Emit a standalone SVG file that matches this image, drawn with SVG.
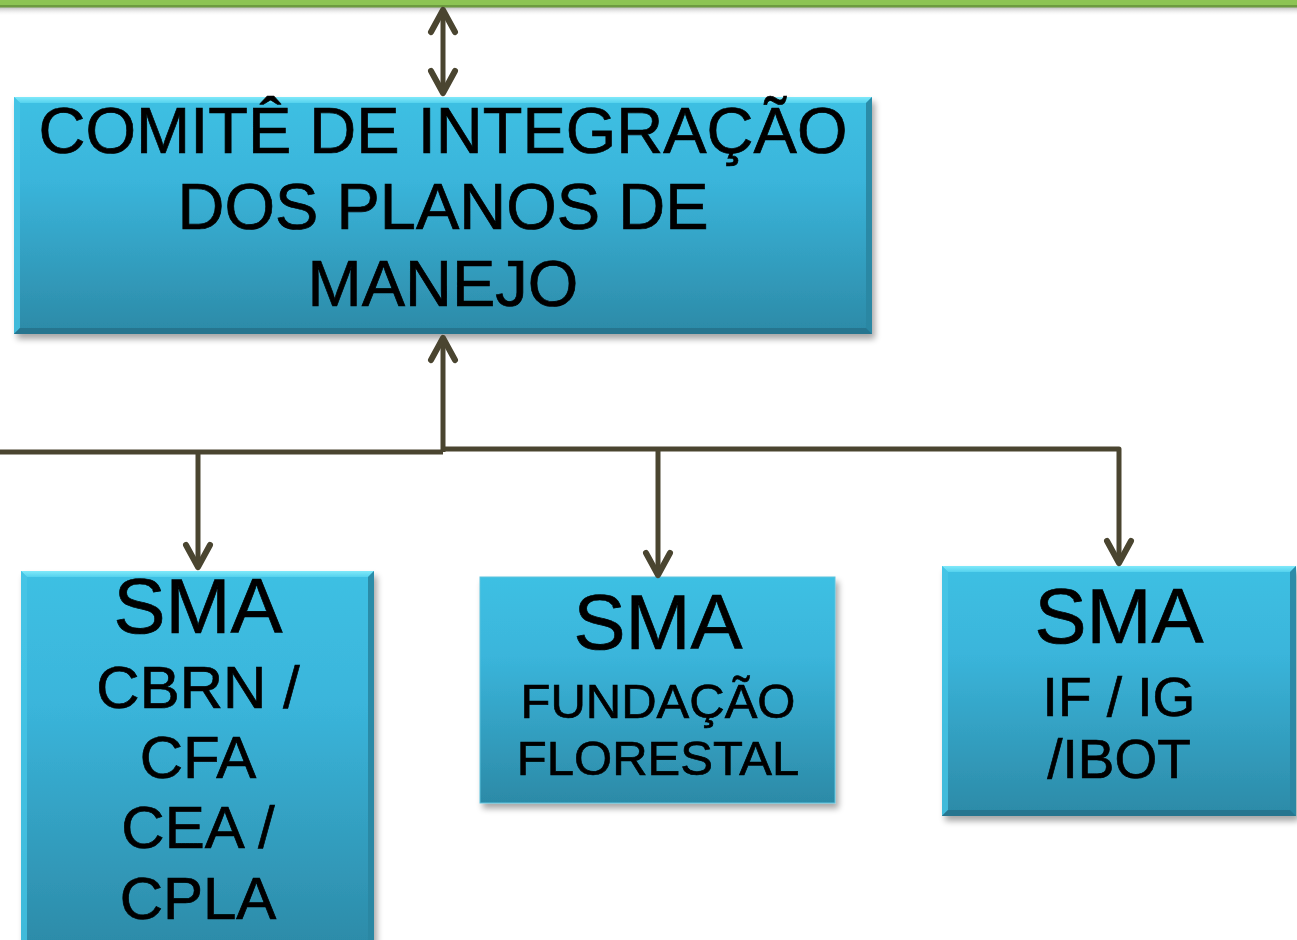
<svg xmlns="http://www.w3.org/2000/svg" width="1297" height="940" viewBox="0 0 1297 940">
<defs>
<linearGradient id="boxg" x1="0" y1="0" x2="0" y2="1">
<stop offset="0" stop-color="#3ec0e3"/>
<stop offset="0.35" stop-color="#3ab5db"/>
<stop offset="1" stop-color="#2c8aa7"/>
</linearGradient>
<linearGradient id="shadeTop" x1="0" y1="0" x2="0" y2="1">
<stop offset="0" stop-color="#7fe9fa"/>
<stop offset="1" stop-color="#55d2ee"/>
</linearGradient>
<linearGradient id="greenShadow" x1="0" y1="0" x2="0" y2="1">
<stop offset="0" stop-color="#9a9a9a" stop-opacity="0.7"/>
<stop offset="1" stop-color="#ffffff" stop-opacity="0"/>
</linearGradient>
<filter id="sh" x="-5%" y="-5%" width="115%" height="120%">
<feGaussianBlur in="SourceAlpha" stdDeviation="3"/>
<feOffset dx="3" dy="5" result="b"/>
<feComponentTransfer><feFuncA type="linear" slope="0.35"/></feComponentTransfer>
<feMerge><feMergeNode/><feMergeNode in="SourceGraphic"/></feMerge>
</filter>
<marker id="ah" viewBox="-28 -16 34 32" refX="0" refY="0" markerWidth="34" markerHeight="32" markerUnits="userSpaceOnUse" orient="auto-start-reverse">
<path d="M-22,-12 L0,0 L-22,12" fill="none" stroke="#4a4530" stroke-width="6" stroke-linecap="round" stroke-linejoin="round"/>
</marker>
</defs>
<style>
.box{fill:url(#boxg);}
.bt{fill:url(#shadeTop);}
.bl{fill:#46c6e6;opacity:0.8;}
.br{fill:#2a86a2;opacity:0.9;}
.bb{fill:#25758f;}
.t{font-family:"Liberation Sans",Arial,sans-serif;fill:#000;stroke:#000;stroke-width:0.7;text-anchor:middle;}
.conn{fill:none;stroke:#4a4530;stroke-width:5;stroke-linejoin:round;}
</style>
<rect x="0" y="0" width="1297" height="940" fill="#ffffff"/>
<g id="topbar">
<rect x="0" y="7" width="1297" height="9" fill="url(#greenShadow)"/>
<rect x="0" y="0" width="1297" height="6" fill="#8cc454"/>
<rect x="0" y="5" width="1297" height="2.5" fill="#6c9b40"/>
</g>
<g id="comite" filter="url(#sh)">
<rect class="box" x="14" y="97" width="858" height="237"/>
<polygon class="bt" points="14,97 872,97 866,103 20,103"/>
<polygon class="bl" points="14,97 20,103 20,328 14,334"/>
<polygon class="br" points="872,97 872,334 866,328 866,103"/>
<polygon class="bb" points="14,334 20,328 866,328 872,334"/>
<text class="t" font-size="65" x="443" y="153">COMITÊ DE INTEGRAÇÃO</text>
<text class="t" font-size="65" x="443" y="229">DOS PLANOS DE</text>
<text class="t" font-size="65" x="443" y="306">MANEJO</text>
</g>
<g id="sma-cbrn" filter="url(#sh)">
<rect class="box" x="21" y="571" width="353" height="380"/>
<polygon class="bt" points="21,571 374,571 368,577 27,577"/>
<polygon class="bl" points="21,571 27,577 27,951 21,951"/>
<polygon class="br" points="374,571 374,951 368,951 368,577"/>
<text class="t" font-size="78" x="198" y="633">SMA</text>
<text class="t" font-size="60" x="198" y="708">CBRN /</text>
<text class="t" font-size="60" x="198" y="778">CFA</text>
<text class="t" font-size="60" x="198" y="848">CEA /</text>
<text class="t" font-size="60" x="198" y="919">CPLA</text>
</g>
<g id="sma-fundacao" filter="url(#sh)">
<rect class="box" x="480" y="577" width="355" height="226" stroke="#5cc4de" stroke-width="1"/>
<text class="t" font-size="78" x="658" y="649">SMA</text>
<text class="t" font-size="49" x="658" y="718">FUNDAÇÃO</text>
<text class="t" font-size="49" x="658" y="775">FLORESTAL</text>
</g>
<g id="sma-if" filter="url(#sh)">
<rect class="box" x="942" y="566" width="354" height="250"/>
<polygon class="bt" points="942,566 1296,566 1290,572 948,572"/>
<polygon class="bl" points="942,566 948,572 948,810 942,816"/>
<polygon class="br" points="1296,566 1296,816 1290,810 1290,572"/>
<polygon class="bb" points="942,816 948,810 1290,810 1296,816"/>
<text class="t" font-size="78" x="1119" y="643">SMA</text>
<text class="t" font-size="55" x="1119" y="716">IF / IG</text>
<text class="t" font-size="55" x="1119" y="778">/IBOT</text>
</g>
<g id="connectors">
<path class="conn" d="M443,93 L443,10" marker-start="url(#ah)" marker-end="url(#ah)"/>
<path class="conn" d="M443,452 L443,338" marker-end="url(#ah)"/>
<path class="conn" d="M0,452 L443,452"/>
<path class="conn" d="M443,449 L1119,449 L1119,563" marker-end="url(#ah)"/>
<path class="conn" d="M198,452 L198,567" marker-end="url(#ah)"/>
<path class="conn" d="M658,450 L658,575" marker-end="url(#ah)"/>
</g>
</svg>
